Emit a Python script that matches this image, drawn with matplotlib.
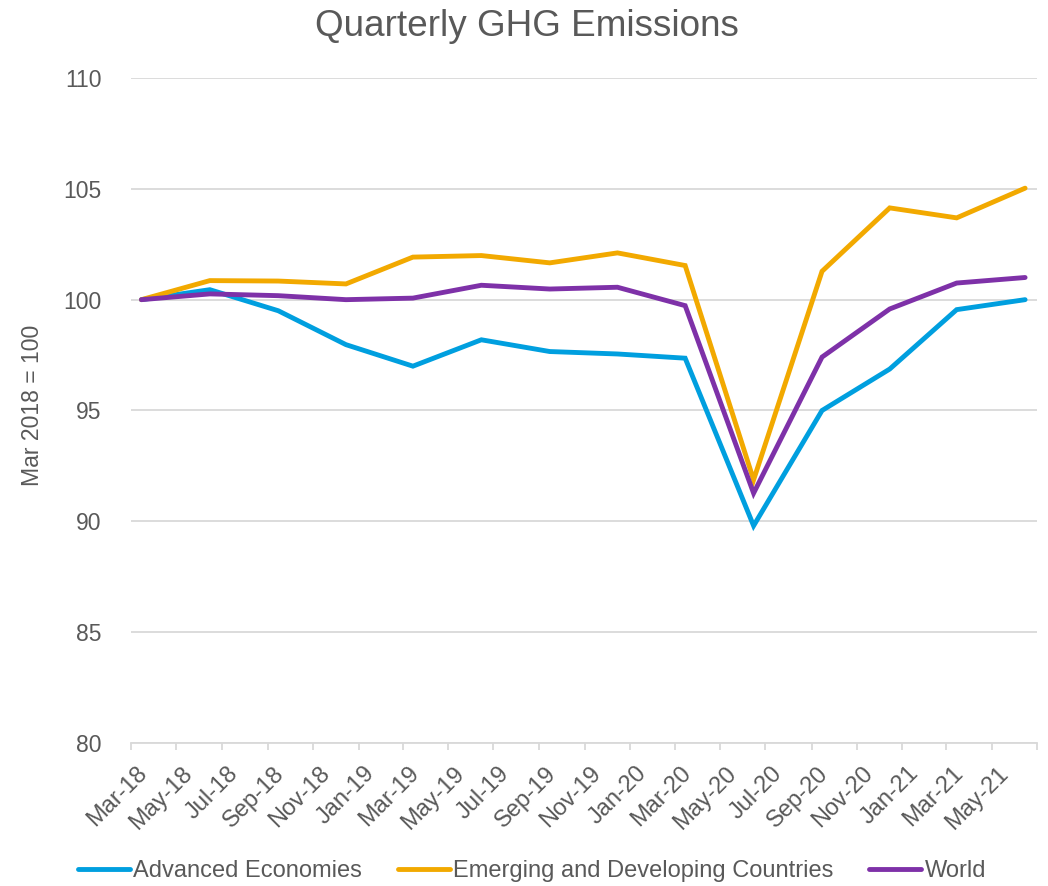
import matplotlib
matplotlib.use("Agg")
import matplotlib.pyplot as plt
import matplotlib.dates as mdates
import matplotlib.transforms as mtransforms
import pandas as pd

dates = ["2018-03-15", "2018-06-15", "2018-09-15", "2018-12-15",
         "2019-03-15", "2019-06-15", "2019-09-15", "2019-12-15",
         "2020-03-15", "2020-06-15", "2020-09-15", "2020-12-15",
         "2021-03-15", "2021-06-15"]
advanced = [100.0, 100.45, 99.5, 97.97, 97.0, 98.19, 97.66, 97.55,
            97.36, 89.8, 95.0, 96.87, 99.55, 100.0]
emerging = [100.0, 100.86, 100.84, 100.71, 101.92, 101.99, 101.66, 102.11,
            101.54, 91.87, 101.28, 104.14, 103.69, 105.03]
world = [100.0, 100.26, 100.18, 100.0, 100.07, 100.65, 100.48, 100.56,
         99.73, 91.27, 97.41, 99.58, 100.75, 101.0]
series_names = ["Advanced Economies", "Emerging and Developing Countries", "World"]
colors = ["#009FDF", "#F2A900", "#7E31A8"]
title = "Quarterly GHG Emissions"
ylabel = "Mar 2018 = 100"
yticks = [80, 85, 90, 95, 100, 105, 110]

plt.rcParams['font.family'] = ['Liberation Sans', 'DejaVu Sans']
txt = "#595959"

x = pd.to_datetime(dates)
fig = plt.figure(figsize=(10.48, 8.86), dpi=100)
ax = fig.add_axes([131/1048, 1-743/886, 906/1048, 665/886])

for vals, name, c in zip([advanced, emerging, world], series_names, colors):
    ax.plot(x, vals, color=c, lw=3.5, label=name, solid_capstyle='round',
            solid_joinstyle='miter', zorder=3)

ax.set_ylim(80, 110)
ax.set_yticks(yticks)
ax.set_xlim(pd.Timestamp("2018-03-01"), pd.Timestamp("2021-07-01"))
ax.xaxis.set_major_locator(mdates.MonthLocator(bymonth=[1, 3, 5, 7, 9, 11]))
fmt = mdates.DateFormatter("%b-%y")
last = mdates.date2num(pd.Timestamp("2021-07-01"))
ax.xaxis.set_major_formatter(
    plt.FuncFormatter(lambda v, p: "" if abs(v - last) < 1 else fmt(v, p)))

ax.grid(axis='y', color="#D9D9D9", lw=1.3, zorder=0)
ax.set_axisbelow(True)
for s in ["top", "right", "left"]:
    ax.spines[s].set_visible(False)
ax.spines["bottom"].set_color("#D9D9D9")
ax.spines["bottom"].set_linewidth(1.3)
ax.tick_params(axis='y', length=0, pad=21, labelsize=16.5, labelcolor=txt)
ax.tick_params(axis='x', length=5, width=1.3, color="#D9D9D9", labelsize=17,
               labelcolor=txt, pad=14.5)
offset = mtransforms.ScaledTranslation(13/100, 0, fig.dpi_scale_trans)
for lab in ax.get_xticklabels():
    lab.set_rotation(45)
    lab.set_ha('right')
    lab.set_va('center')
    lab.set_rotation_mode('anchor')
    lab.set_transform(lab.get_transform() + offset)

fig.text(33/1048, 1-405/886, ylabel, rotation=90, fontsize=16.6, color=txt,
         ha='center', va='center')
fig.text(527/1048, 1-36/886, title, fontsize=26.6, color=txt, ha='center',
         va='baseline')

fig.legend(loc='center', bbox_to_anchor=(532/1048, 1-871/886), ncol=3,
           frameon=False, fontsize=17, labelcolor=txt, handlelength=2.2,
           handletextpad=0.15, columnspacing=1.5, borderpad=0)

fig.savefig("out.png", dpi=100)
